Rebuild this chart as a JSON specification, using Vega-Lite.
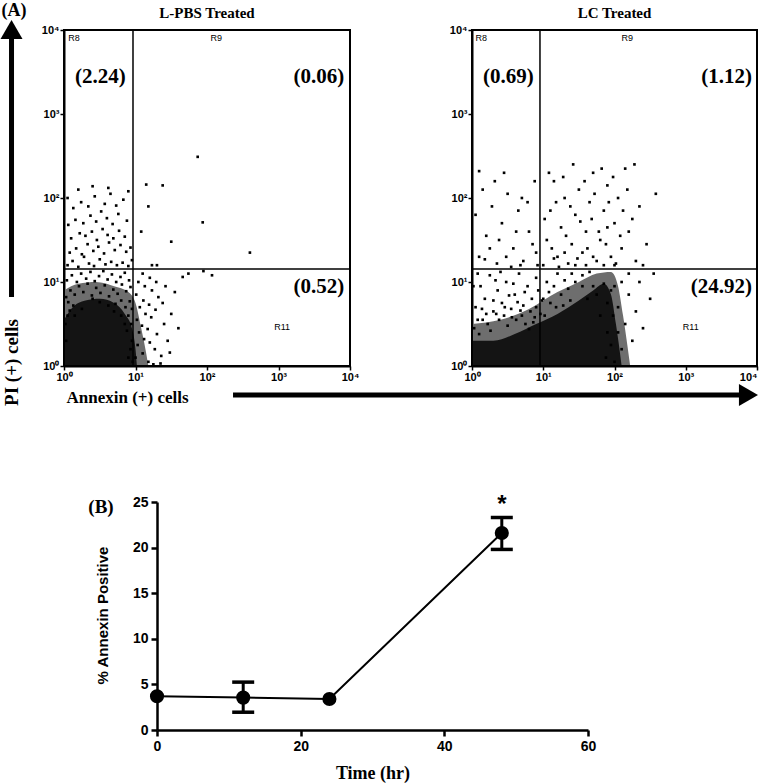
{
"$schema":"https://vega.github.io/schema/vega-lite/v6.json",
"width":761,"height":783,"autosize":"none","padding":0,"background":"white",
"config":{"view":{"stroke":null},"font":"Liberation Sans","axis":{"grid":false,"domainColor":"black","tickColor":"black","labelColor":"black","titleColor":"black","labelFlush":false,"labelOverlap":false}},
"datasets":{
"lpbs_contour":[{"level":"outer","ann":0,"pi":0.9},{"level":"outer","ann":0.2,"pi":0.98},{"level":"outer","ann":0.45,"pi":1.0},{"level":"outer","ann":0.7,"pi":0.95},{"level":"outer","ann":0.9,"pi":0.88},{"level":"outer","ann":1.0,"pi":0.75},{"level":"outer","ann":1.08,"pi":0.45},{"level":"outer","ann":1.15,"pi":0.15},{"level":"outer","ann":1.18,"pi":0},
{"level":"inner","ann":0,"pi":0.55},{"level":"inner","ann":0.1,"pi":0.68},{"level":"inner","ann":0.3,"pi":0.78},{"level":"inner","ann":0.5,"pi":0.8},{"level":"inner","ann":0.7,"pi":0.75},{"level":"inner","ann":0.85,"pi":0.62},{"level":"inner","ann":0.95,"pi":0.45},{"level":"inner","ann":1.0,"pi":0.2},{"level":"inner","ann":1.02,"pi":0}],
"lc_contour":[{"level":"outer","ann":0,"pi":0.5},{"level":"outer","ann":0.4,"pi":0.55},{"level":"outer","ann":0.8,"pi":0.68},{"level":"outer","ann":1.2,"pi":0.88},{"level":"outer","ann":1.5,"pi":1.0},{"level":"outer","ann":1.75,"pi":1.1},{"level":"outer","ann":1.95,"pi":1.12},{"level":"outer","ann":2.05,"pi":0.95},{"level":"outer","ann":2.12,"pi":0.6},{"level":"outer","ann":2.18,"pi":0.25},{"level":"outer","ann":2.22,"pi":0},
{"level":"inner","ann":0,"pi":0.3},{"level":"inner","ann":0.3,"pi":0.3},{"level":"inner","ann":0.6,"pi":0.38},{"level":"inner","ann":0.9,"pi":0.5},{"level":"inner","ann":1.2,"pi":0.62},{"level":"inner","ann":1.5,"pi":0.78},{"level":"inner","ann":1.7,"pi":0.9},{"level":"inner","ann":1.85,"pi":0.98},{"level":"inner","ann":1.95,"pi":0.85},{"level":"inner","ann":2.02,"pi":0.5},{"level":"inner","ann":2.07,"pi":0.2},{"level":"inner","ann":2.1,"pi":0}],
"lpbs_events":[{"ann":0.05,"pi":1.2},{"ann":0.12,"pi":1.25},{"ann":0.2,"pi":1.18},{"ann":0.28,"pi":1.3},{"ann":0.35,"pi":1.22},{"ann":0.42,"pi":1.19},{"ann":0.5,"pi":1.27},{"ann":0.58,"pi":1.21},{"ann":0.66,"pi":1.24},{"ann":0.74,"pi":1.2},{"ann":0.82,"pi":1.23},{"ann":0.9,"pi":1.19},{"ann":0.95,"pi":1.26},
{"ann":0.08,"pi":1.35},{"ann":0.17,"pi":1.4},{"ann":0.25,"pi":1.33},{"ann":0.33,"pi":1.45},{"ann":0.41,"pi":1.37},{"ann":0.48,"pi":1.42},{"ann":0.56,"pi":1.34},{"ann":0.63,"pi":1.47},{"ann":0.71,"pi":1.38},{"ann":0.79,"pi":1.44},{"ann":0.87,"pi":1.36},{"ann":0.93,"pi":1.41},
{"ann":0.1,"pi":1.52},{"ann":0.22,"pi":1.58},{"ann":0.3,"pi":1.55},{"ann":0.39,"pi":1.6},{"ann":0.46,"pi":1.5},{"ann":0.54,"pi":1.63},{"ann":0.61,"pi":1.56},{"ann":0.69,"pi":1.52},{"ann":0.77,"pi":1.61},{"ann":0.85,"pi":1.54},
{"ann":0.06,"pi":1.68},{"ann":0.16,"pi":1.74},{"ann":0.27,"pi":1.7},{"ann":0.37,"pi":1.79},{"ann":0.45,"pi":1.72},{"ann":0.52,"pi":1.84},{"ann":0.6,"pi":1.76},{"ann":0.68,"pi":1.69},{"ann":0.76,"pi":1.81},{"ann":0.88,"pi":1.73},
{"ann":0.13,"pi":1.88},{"ann":0.24,"pi":1.95},{"ann":0.34,"pi":1.9},{"ann":0.43,"pi":2.02},{"ann":0.57,"pi":1.93},{"ann":0.65,"pi":2.05},{"ann":0.73,"pi":1.91},{"ann":0.83,"pi":1.98},
{"ann":0.2,"pi":2.1},{"ann":0.4,"pi":2.14},{"ann":0.62,"pi":2.12},{"ann":0.9,"pi":2.08},{"ann":0.05,"pi":2.0},
{"ann":0.03,"pi":0.82},{"ann":0.09,"pi":0.9},{"ann":0.15,"pi":0.85},{"ann":0.21,"pi":0.95},{"ann":0.27,"pi":0.88},{"ann":0.33,"pi":0.98},{"ann":0.39,"pi":0.84},{"ann":0.45,"pi":0.93},{"ann":0.51,"pi":0.87},{"ann":0.57,"pi":0.96},{"ann":0.63,"pi":0.83},{"ann":0.69,"pi":0.91},{"ann":0.75,"pi":0.86},{"ann":0.81,"pi":0.97},{"ann":0.87,"pi":0.89},{"ann":0.93,"pi":0.94},
{"ann":0.04,"pi":1.02},{"ann":0.11,"pi":1.08},{"ann":0.18,"pi":1.0},{"ann":0.24,"pi":1.1},{"ann":0.31,"pi":1.04},{"ann":0.37,"pi":1.12},{"ann":0.43,"pi":1.01},{"ann":0.49,"pi":1.07},{"ann":0.55,"pi":1.13},{"ann":0.61,"pi":1.03},{"ann":0.67,"pi":1.09},{"ann":0.73,"pi":1.0},{"ann":0.79,"pi":1.06},{"ann":0.85,"pi":1.11},{"ann":0.91,"pi":1.02},
{"ann":0.06,"pi":0.76},{"ann":0.13,"pi":0.72},{"ann":0.72,"pi":0.74},{"ann":0.8,"pi":0.78},{"ann":0.86,"pi":0.7},{"ann":0.92,"pi":0.77},{"ann":0.08,"pi":0.66},{"ann":0.9,"pi":0.6},{"ann":0.95,"pi":0.68},{"ann":0.94,"pi":0.5},{"ann":0.88,"pi":0.42},
{"ann":0.02,"pi":0.5},{"ann":0.03,"pi":0.3},{"ann":0.05,"pi":0.6},{"ann":0.93,"pi":0.2},{"ann":0.95,"pi":0.3},{"ann":0.9,"pi":0.1},{"ann":0.96,"pi":0.05},{"ann":0.85,"pi":0.5},{"ann":0.8,"pi":0.6},{"ann":0.7,"pi":0.65},{"ann":0.25,"pi":0.68},{"ann":0.15,"pi":0.6},{"ann":0.62,"pi":0.72},{"ann":0.4,"pi":0.8},{"ann":0.5,"pi":0.76},
{"ann":1.0,"pi":0.1},{"ann":1.03,"pi":0.25},{"ann":1.05,"pi":0.4},{"ann":1.02,"pi":0.55},{"ann":1.06,"pi":0.7},{"ann":1.01,"pi":0.85},{"ann":1.04,"pi":1.0},
{"ann":1.1,"pi":0.15},{"ann":1.12,"pi":0.32},{"ann":1.09,"pi":0.48},{"ann":1.14,"pi":0.62},{"ann":1.11,"pi":0.78},{"ann":1.13,"pi":0.95},{"ann":1.1,"pi":1.1},
{"ann":1.18,"pi":0.05},{"ann":1.2,"pi":0.28},{"ann":1.17,"pi":0.44},{"ann":1.22,"pi":0.58},{"ann":1.19,"pi":0.73},{"ann":1.23,"pi":0.9},{"ann":1.2,"pi":1.05},
{"ann":1.27,"pi":0.2},{"ann":1.3,"pi":0.38},{"ann":1.28,"pi":0.67},{"ann":1.32,"pi":0.82},{"ann":1.29,"pi":1.0},
{"ann":1.36,"pi":0.12},{"ann":1.4,"pi":0.5},{"ann":1.38,"pi":0.75},{"ann":1.42,"pi":0.95},{"ann":1.45,"pi":0.3},{"ann":1.5,"pi":0.62},{"ann":1.55,"pi":0.88},{"ann":1.6,"pi":0.45},{"ann":1.66,"pi":1.06},{"ann":1.35,"pi":0.03},{"ann":1.25,"pi":0.02},{"ann":1.48,"pi":0.16},
{"ann":1.74,"pi":1.1},{"ann":1.95,"pi":1.13},{"ann":2.07,"pi":1.08},{"ann":2.6,"pi":1.35},{"ann":1.5,"pi":1.48},{"ann":1.23,"pi":1.2},{"ann":1.3,"pi":1.2},{"ann":1.38,"pi":2.15},{"ann":1.15,"pi":2.16},{"ann":1.87,"pi":2.49},{"ann":1.94,"pi":1.71},{"ann":1.18,"pi":1.9},{"ann":1.08,"pi":1.6}],
"lc_events":[{"ann":0.1,"pi":1.3},{"ann":0.2,"pi":1.55},{"ann":0.28,"pi":1.9},{"ann":0.35,"pi":1.22},{"ann":0.42,"pi":1.7},{"ann":0.5,"pi":2.05},{"ann":0.58,"pi":1.4},{"ann":0.65,"pi":1.85},{"ann":0.72,"pi":1.25},{"ann":0.8,"pi":1.6},{"ann":0.88,"pi":2.2},{"ann":0.15,"pi":2.1},{"ann":0.45,"pi":2.3},{"ann":0.7,"pi":2.0},{"ann":0.9,"pi":1.35},{"ann":0.55,"pi":1.18},{"ann":0.25,"pi":1.4},{"ann":0.78,"pi":1.95},{"ann":0.62,"pi":1.6},{"ann":0.38,"pi":1.5},{"ann":0.05,"pi":1.8},{"ann":0.85,"pi":1.45},{"ann":0.32,"pi":2.2},{"ann":0.48,"pi":1.3},{"ann":0.68,"pi":1.2},{"ann":0.92,"pi":1.2},{"ann":0.1,"pi":2.32},{"ann":0.18,"pi":1.27},
{"ann":1.0,"pi":1.2},{"ann":1.05,"pi":1.5},{"ann":1.1,"pi":1.85},{"ann":1.15,"pi":2.2},{"ann":1.2,"pi":1.3},{"ann":1.25,"pi":1.65},{"ann":1.3,"pi":2.0},{"ann":1.35,"pi":1.22},{"ann":1.4,"pi":1.45},{"ann":1.45,"pi":1.8},{"ann":1.5,"pi":2.1},{"ann":1.55,"pi":1.35},{"ann":1.6,"pi":1.6},{"ann":1.65,"pi":1.95},{"ann":1.7,"pi":2.3},{"ann":1.75,"pi":1.25},{"ann":1.8,"pi":1.5},{"ann":1.85,"pi":1.85},{"ann":1.9,"pi":2.15},{"ann":1.95,"pi":1.3},{"ann":2.0,"pi":1.7},{"ann":2.05,"pi":2.0},{"ann":2.1,"pi":1.4},{"ann":2.15,"pi":2.35},{"ann":2.2,"pi":1.6},{"ann":2.3,"pi":1.25},{"ann":2.35,"pi":1.9},{"ann":2.58,"pi":2.05},{"ann":2.45,"pi":1.45},
{"ann":1.02,"pi":1.75},{"ann":1.08,"pi":2.3},{"ann":1.12,"pi":1.4},{"ann":1.18,"pi":1.95},{"ann":1.22,"pi":1.18},{"ann":1.28,"pi":2.25},{"ann":1.32,"pi":1.55},{"ann":1.38,"pi":1.9},{"ann":1.42,"pi":2.4},{"ann":1.48,"pi":1.28},{"ann":1.52,"pi":1.72},{"ann":1.58,"pi":2.2},{"ann":1.62,"pi":1.4},{"ann":1.68,"pi":1.75},{"ann":1.72,"pi":2.05},{"ann":1.78,"pi":1.6},{"ann":1.82,"pi":2.35},{"ann":1.88,"pi":1.45},{"ann":1.92,"pi":1.95},{"ann":1.98,"pi":2.25},{"ann":2.02,"pi":1.22},{"ann":2.08,"pi":1.55},{"ann":2.12,"pi":1.85},{"ann":2.18,"pi":2.1},{"ann":2.25,"pi":1.75},{"ann":2.28,"pi":2.4},{"ann":1.3,"pi":1.35},{"ann":1.6,"pi":1.2},{"ann":1.85,"pi":1.2},{"ann":2.0,"pi":1.2},{"ann":1.45,"pi":1.2},{"ann":1.15,"pi":1.28},{"ann":1.7,"pi":1.3},{"ann":1.9,"pi":1.65},{"ann":2.4,"pi":1.2},
{"ann":0.05,"pi":0.7},{"ann":0.12,"pi":0.95},{"ann":0.18,"pi":0.8},{"ann":0.25,"pi":1.08},{"ann":0.3,"pi":0.65},{"ann":0.36,"pi":0.9},{"ann":0.42,"pi":0.75},{"ann":0.48,"pi":1.0},{"ann":0.55,"pi":0.68},{"ann":0.6,"pi":0.85},{"ann":0.66,"pi":1.1},{"ann":0.72,"pi":0.72},{"ann":0.78,"pi":0.95},{"ann":0.84,"pi":0.8},{"ann":0.9,"pi":1.05},{"ann":0.08,"pi":1.1},{"ann":0.2,"pi":0.62},{"ann":0.33,"pi":1.02},{"ann":0.45,"pi":0.6},{"ann":0.58,"pi":0.98},{"ann":0.7,"pi":0.6},{"ann":0.82,"pi":0.65},{"ann":0.15,"pi":0.55},{"ann":0.38,"pi":0.55},{"ann":0.62,"pi":0.55},{"ann":0.88,"pi":0.58},{"ann":0.03,"pi":0.45},{"ann":0.1,"pi":0.38},{"ann":0.26,"pi":0.42},{"ann":0.5,"pi":0.48},{"ann":0.75,"pi":0.5},{"ann":0.93,"pi":0.9},{"ann":0.4,"pi":1.12},{"ann":0.02,"pi":0.95},
{"ann":0.08,"pi":0.55},{"ann":0.22,"pi":0.5},{"ann":0.34,"pi":0.62},{"ann":0.46,"pi":0.7},{"ann":0.56,"pi":0.58},{"ann":0.68,"pi":0.66},{"ann":0.8,"pi":0.44},{"ann":0.9,"pi":0.7},{"ann":0.3,"pi":0.78},{"ann":0.52,"pi":0.84},{"ann":0.64,"pi":0.76},{"ann":0.14,"pi":0.68},{"ann":0.74,"pi":0.88},{"ann":0.86,"pi":0.52},{"ann":0.96,"pi":0.62},{"ann":0.98,"pi":0.78},
{"ann":1.0,"pi":0.8},{"ann":1.05,"pi":1.0},{"ann":1.1,"pi":0.75},{"ann":1.15,"pi":0.95},{"ann":1.2,"pi":1.1},{"ann":1.25,"pi":0.85},{"ann":1.3,"pi":1.02},{"ann":1.35,"pi":0.92},{"ann":1.4,"pi":1.1},{"ann":1.45,"pi":1.0},{"ann":1.55,"pi":1.08},{"ann":1.65,"pi":1.12},{"ann":1.02,"pi":0.6},{"ann":1.08,"pi":0.88},{"ann":1.18,"pi":0.7},{"ann":1.28,"pi":0.72},{"ann":1.38,"pi":0.78},
{"ann":2.0,"pi":0.95},{"ann":2.05,"pi":0.7},{"ann":2.1,"pi":1.0},{"ann":2.15,"pi":0.5},{"ann":2.2,"pi":0.85},{"ann":2.25,"pi":0.3},{"ann":2.3,"pi":0.65},{"ann":2.35,"pi":1.0},{"ann":2.1,"pi":0.2},{"ann":2.0,"pi":0.05},{"ann":2.4,"pi":0.45},{"ann":2.5,"pi":0.8},{"ann":2.55,"pi":1.1},{"ann":2.2,"pi":1.1},{"ann":2.05,"pi":0.4},
{"ann":1.95,"pi":0.9},{"ann":1.9,"pi":0.75},{"ann":1.98,"pi":0.6},{"ann":1.85,"pi":0.98},{"ann":1.8,"pi":0.6},{"ann":1.9,"pi":0.4},{"ann":1.95,"pi":0.25},{"ann":1.88,"pi":0.1},{"ann":1.75,"pi":0.85},{"ann":1.7,"pi":0.95},{"ann":1.62,"pi":0.8},{"ann":1.55,"pi":0.95}],
"panels":[{"panel":"L-PBS","title":"L-PBS Treated","lo":0,"hi":4,"gateAnn":0.965,"gatePI":1.155,"titleAnn":2,"titlePI":4.2},{"panel":"LC","title":"LC Treated","lo":0,"hi":4,"gateAnn":0.954,"gatePI":1.155,"titleAnn":2,"titlePI":4.2}],
"notes":[
{"panel":"L-PBS","kind":"pct","text":"(2.24)","ann":0.51,"pi":3.44,"align":"center"},
{"panel":"L-PBS","kind":"pct","text":"(0.06)","ann":3.92,"pi":3.44,"align":"right"},
{"panel":"L-PBS","kind":"pct","text":"(0.52)","ann":3.92,"pi":0.94,"align":"right"},
{"panel":"L-PBS","kind":"gate","text":"R8","ann":0.06,"pi":3.9,"align":"left"},
{"panel":"L-PBS","kind":"gate","text":"R9","ann":2.13,"pi":3.9,"align":"center"},
{"panel":"L-PBS","kind":"gate","text":"R11","ann":3.05,"pi":0.47,"align":"center"},
{"panel":"LC","kind":"pct","text":"(0.69)","ann":0.51,"pi":3.44,"align":"center"},
{"panel":"LC","kind":"pct","text":"(1.12)","ann":3.93,"pi":3.44,"align":"right"},
{"panel":"LC","kind":"pct","text":"(24.92)","ann":3.93,"pi":0.94,"align":"right"},
{"panel":"LC","kind":"gate","text":"R8","ann":0.05,"pi":3.9,"align":"left"},
{"panel":"LC","kind":"gate","text":"R9","ann":2.18,"pi":3.9,"align":"center"},
{"panel":"LC","kind":"gate","text":"R11","ann":3.07,"pi":0.47,"align":"center"},
{"panel":"figure","kind":"panel","text":"(A)","ann":-0.70,"pi":4.23,"align":"center"}],
"arrows":[{"dir":"PI","ann":-0.734,"ann2":-0.734,"pi":0.82,"pi2":3.93,"headAnn":-0.734,"headPI":4.006},{"dir":"Annexin","ann":2.364,"ann2":9.455,"pi":-0.345,"pi2":-0.345,"headAnn":9.573,"headPI":-0.345}],
"timecourse":[{"time":0,"mean":3.7},{"time":12,"mean":3.55,"lo":1.95,"hi":5.25},{"time":24,"mean":3.4},{"time":48,"mean":21.6,"lo":19.8,"hi":23.3}],
"timenotes":[{"text":"*","time":48,"pct":23.9,"kind":"star"},{"text":"(B)","time":-7.8,"pct":24.4,"kind":"panel"}]
},
"layer":[
 {"data":{"name":"lpbs_contour"},"transform":[{"filter":"datum.level === 'outer'"}],"mark":{"type":"area","color":"#6e6e6e","opacity":1,"interpolate":"monotone"},
  "encoding":{
   "x":{"field":"ann","type":"quantitative","scale":{"domain":[0,4],"range":[64,350],"nice":false,"zero":false},
     "axis":{"orient":"bottom","offset":-417,"values":[0,1,2,3,4],"labelExpr":"'10' + ['⁰','¹','²','³','⁴'][datum.value]","tickSize":4,"tickWidth":1.5,"domainWidth":2,"labelFont":"Liberation Sans","labelFontWeight":"bold","labelFontSize":11,"labelPadding":1,
       "title":"Annexin (+) cells","titleFont":"Liberation Serif","titleFontSize":17,"titleFontWeight":"bold","titleX":127,"titleY":31,"titleAlign":"center","titleBaseline":"middle","titleAngle":0}},
   "y":{"field":"pi","type":"quantitative","scale":{"domain":[0,4],"range":[366,30],"nice":false,"zero":false},
     "axis":{"orient":"left","offset":-64,"values":[0,1,2,3,4],"labelExpr":"'10' + ['⁰','¹','²','³','⁴'][datum.value]","tickSize":4,"tickWidth":1.5,"domainWidth":2,"labelFont":"Liberation Sans","labelFontWeight":"bold","labelFontSize":11,"labelPadding":1,
       "title":"PI (+) cells","titleFont":"Liberation Serif","titleFontSize":19,"titleFontWeight":"bold","titleX":-52.5,"titleY":362,"titleAlign":"center","titleBaseline":"middle","titleAngle":-90}},
   "y2":{"datum":0}}},
 {"data":{"name":"lpbs_contour"},"transform":[{"filter":"datum.level === 'inner'"}],"mark":{"type":"area","color":"#141414","opacity":1,"interpolate":"monotone"},
  "encoding":{"x":{"field":"ann","type":"quantitative","scale":{"domain":[0,4],"range":[64,350],"nice":false,"zero":false},"axis":null},"y":{"field":"pi","type":"quantitative","scale":{"domain":[0,4],"range":[366,30],"nice":false,"zero":false},"axis":null},"y2":{"datum":0}}},
 {"data":{"name":"lpbs_events"},"mark":{"type":"point","shape":"square","filled":true,"size":7,"color":"black","opacity":1,"strokeWidth":0},
  "encoding":{"x":{"field":"ann","type":"quantitative","scale":{"domain":[0,4],"range":[64,350],"nice":false,"zero":false},"axis":null},"y":{"field":"pi","type":"quantitative","scale":{"domain":[0,4],"range":[366,30],"nice":false,"zero":false},"axis":null}}},
 {"data":{"name":"panels"},"transform":[{"filter":"datum.panel === 'L-PBS'"}],"mark":{"type":"rect","fill":"transparent","stroke":"black","strokeWidth":2},
  "encoding":{"x":{"field":"lo","type":"quantitative","scale":{"domain":[0,4],"range":[64,350],"nice":false,"zero":false},"axis":null},"x2":{"field":"hi"},"y":{"field":"lo","type":"quantitative","scale":{"domain":[0,4],"range":[366,30],"nice":false,"zero":false},"axis":null},"y2":{"field":"hi"}}},
 {"data":{"name":"panels"},"transform":[{"filter":"datum.panel === 'L-PBS'"}],"mark":{"type":"rule","color":"black","strokeWidth":1.5},
  "encoding":{"x":{"field":"gateAnn","type":"quantitative","scale":{"domain":[0,4],"range":[64,350],"nice":false,"zero":false},"axis":null},"y":{"field":"lo","type":"quantitative","scale":{"domain":[0,4],"range":[366,30],"nice":false,"zero":false},"axis":null},"y2":{"field":"hi"}}},
 {"data":{"name":"panels"},"transform":[{"filter":"datum.panel === 'L-PBS'"}],"mark":{"type":"rule","color":"black","strokeWidth":1.5},
  "encoding":{"y":{"field":"gatePI","type":"quantitative","scale":{"domain":[0,4],"range":[366,30],"nice":false,"zero":false},"axis":null},"x":{"field":"lo","type":"quantitative","scale":{"domain":[0,4],"range":[64,350],"nice":false,"zero":false},"axis":null},"x2":{"field":"hi"}}},
 {"data":{"name":"panels"},"transform":[{"filter":"datum.panel === 'L-PBS'"}],"mark":{"type":"text","font":"Liberation Serif","fontWeight":"bold","fontSize":15,"color":"black","baseline":"middle"},
  "encoding":{"x":{"field":"titleAnn","type":"quantitative","scale":{"domain":[0,4],"range":[64,350],"nice":false,"zero":false},"axis":null},"y":{"field":"titlePI","type":"quantitative","scale":{"domain":[0,4],"range":[366,30],"nice":false,"zero":false},"axis":null},"text":{"field":"title"}}},
 {"data":{"name":"notes"},"transform":[{"filter":"(datum.panel === 'L-PBS' && datum.kind === 'pct') || datum.kind === 'panel'"}],"mark":{"type":"text","font":"Liberation Serif","fontWeight":"bold","fontSize":{"expr":"datum.kind === 'panel' ? 18 : 21"},"color":"black","baseline":"middle","align":{"expr":"datum.align"}},
  "encoding":{"x":{"field":"ann","type":"quantitative","scale":{"domain":[0,4],"range":[64,350],"nice":false,"zero":false},"axis":null},"y":{"field":"pi","type":"quantitative","scale":{"domain":[0,4],"range":[366,30],"nice":false,"zero":false},"axis":null},"text":{"field":"text"}}},
 {"data":{"name":"notes"},"transform":[{"filter":"datum.panel === 'L-PBS' && datum.kind === 'gate'"}],"mark":{"type":"text","font":"Liberation Sans","fontSize":9,"color":"black","baseline":"middle","align":{"expr":"datum.align"}},
  "encoding":{"x":{"field":"ann","type":"quantitative","scale":{"domain":[0,4],"range":[64,350],"nice":false,"zero":false},"axis":null},"y":{"field":"pi","type":"quantitative","scale":{"domain":[0,4],"range":[366,30],"nice":false,"zero":false},"axis":null},"text":{"field":"text"}}},
 {"data":{"name":"arrows"},"mark":{"type":"rule","color":"black","strokeWidth":5},
  "encoding":{"x":{"field":"ann","type":"quantitative","scale":{"domain":[0,4],"range":[64,350],"nice":false,"zero":false},"axis":null},"x2":{"field":"ann2"},"y":{"field":"pi","type":"quantitative","scale":{"domain":[0,4],"range":[366,30],"nice":false,"zero":false},"axis":null},"y2":{"field":"pi2"}}},
 {"data":{"name":"arrows"},"mark":{"type":"point","filled":true,"size":484,"color":"black","opacity":1,"strokeWidth":0},
  "encoding":{"x":{"field":"headAnn","type":"quantitative","scale":{"domain":[0,4],"range":[64,350],"nice":false,"zero":false},"axis":null},"y":{"field":"headPI","type":"quantitative","scale":{"domain":[0,4],"range":[366,30],"nice":false,"zero":false},"axis":null},
   "shape":{"field":"dir","type":"nominal","scale":{"domain":["PI","Annexin"],"range":["triangle-up","triangle-right"]},"legend":null}}},

 {"data":{"name":"lc_contour"},"transform":[{"filter":"datum.level === 'outer'"}],"mark":{"type":"area","color":"#6e6e6e","opacity":1,"interpolate":"monotone"},
  "encoding":{
   "x":{"field":"ann","type":"quantitative","scale":{"domain":[0,4],"range":[472,757],"nice":false,"zero":false},
     "axis":{"orient":"bottom","offset":-417,"values":[0,1,2,3,4],"labelExpr":"'10' + ['⁰','¹','²','³','⁴'][datum.value]","labelAlign":{"condition":{"test":"datum.value === 4","value":"right"},"value":"center"},"tickSize":4,"tickWidth":1.5,"domainWidth":2,"labelFont":"Liberation Sans","labelFontWeight":"bold","labelFontSize":11,"labelPadding":1,"title":null}},
   "y":{"field":"pi","type":"quantitative","scale":{"domain":[0,4],"range":[366,30],"nice":false,"zero":false},
     "axis":{"orient":"left","offset":-472,"values":[0,1,2,3,4],"labelExpr":"'10' + ['⁰','¹','²','³','⁴'][datum.value]","tickSize":4,"tickWidth":1.5,"domainWidth":2,"labelFont":"Liberation Sans","labelFontWeight":"bold","labelFontSize":11,"labelPadding":1,"title":null}},
   "y2":{"datum":0}}},
 {"data":{"name":"lc_contour"},"transform":[{"filter":"datum.level === 'inner'"}],"mark":{"type":"area","color":"#141414","opacity":1,"interpolate":"monotone"},
  "encoding":{"x":{"field":"ann","type":"quantitative","scale":{"domain":[0,4],"range":[472,757],"nice":false,"zero":false},"axis":null},"y":{"field":"pi","type":"quantitative","scale":{"domain":[0,4],"range":[366,30],"nice":false,"zero":false},"axis":null},"y2":{"datum":0}}},
 {"data":{"name":"lc_events"},"mark":{"type":"point","shape":"square","filled":true,"size":7,"color":"black","opacity":1,"strokeWidth":0},
  "encoding":{"x":{"field":"ann","type":"quantitative","scale":{"domain":[0,4],"range":[472,757],"nice":false,"zero":false},"axis":null},"y":{"field":"pi","type":"quantitative","scale":{"domain":[0,4],"range":[366,30],"nice":false,"zero":false},"axis":null}}},
 {"data":{"name":"panels"},"transform":[{"filter":"datum.panel === 'LC'"}],"mark":{"type":"rect","fill":"transparent","stroke":"black","strokeWidth":2},
  "encoding":{"x":{"field":"lo","type":"quantitative","scale":{"domain":[0,4],"range":[472,757],"nice":false,"zero":false},"axis":null},"x2":{"field":"hi"},"y":{"field":"lo","type":"quantitative","scale":{"domain":[0,4],"range":[366,30],"nice":false,"zero":false},"axis":null},"y2":{"field":"hi"}}},
 {"data":{"name":"panels"},"transform":[{"filter":"datum.panel === 'LC'"}],"mark":{"type":"rule","color":"black","strokeWidth":1.5},
  "encoding":{"x":{"field":"gateAnn","type":"quantitative","scale":{"domain":[0,4],"range":[472,757],"nice":false,"zero":false},"axis":null},"y":{"field":"lo","type":"quantitative","scale":{"domain":[0,4],"range":[366,30],"nice":false,"zero":false},"axis":null},"y2":{"field":"hi"}}},
 {"data":{"name":"panels"},"transform":[{"filter":"datum.panel === 'LC'"}],"mark":{"type":"rule","color":"black","strokeWidth":1.5},
  "encoding":{"y":{"field":"gatePI","type":"quantitative","scale":{"domain":[0,4],"range":[366,30],"nice":false,"zero":false},"axis":null},"x":{"field":"lo","type":"quantitative","scale":{"domain":[0,4],"range":[472,757],"nice":false,"zero":false},"axis":null},"x2":{"field":"hi"}}},
 {"data":{"name":"panels"},"transform":[{"filter":"datum.panel === 'LC'"}],"mark":{"type":"text","font":"Liberation Serif","fontWeight":"bold","fontSize":15,"color":"black","baseline":"middle"},
  "encoding":{"x":{"field":"titleAnn","type":"quantitative","scale":{"domain":[0,4],"range":[472,757],"nice":false,"zero":false},"axis":null},"y":{"field":"titlePI","type":"quantitative","scale":{"domain":[0,4],"range":[366,30],"nice":false,"zero":false},"axis":null},"text":{"field":"title"}}},
 {"data":{"name":"notes"},"transform":[{"filter":"datum.panel === 'LC' && datum.kind === 'pct'"}],"mark":{"type":"text","font":"Liberation Serif","fontWeight":"bold","fontSize":21,"color":"black","baseline":"middle","align":{"expr":"datum.align"}},
  "encoding":{"x":{"field":"ann","type":"quantitative","scale":{"domain":[0,4],"range":[472,757],"nice":false,"zero":false},"axis":null},"y":{"field":"pi","type":"quantitative","scale":{"domain":[0,4],"range":[366,30],"nice":false,"zero":false},"axis":null},"text":{"field":"text"}}},
 {"data":{"name":"notes"},"transform":[{"filter":"datum.panel === 'LC' && datum.kind === 'gate'"}],"mark":{"type":"text","font":"Liberation Sans","fontSize":9,"color":"black","baseline":"middle","align":{"expr":"datum.align"}},
  "encoding":{"x":{"field":"ann","type":"quantitative","scale":{"domain":[0,4],"range":[472,757],"nice":false,"zero":false},"axis":null},"y":{"field":"pi","type":"quantitative","scale":{"domain":[0,4],"range":[366,30],"nice":false,"zero":false},"axis":null},"text":{"field":"text"}}},

 {"data":{"name":"timecourse"},"mark":{"type":"line","color":"black","strokeWidth":2},
  "encoding":{
   "x":{"field":"time","type":"quantitative","scale":{"domain":[0,60],"range":[157,588],"nice":false,"zero":false},
     "axis":{"orient":"bottom","offset":-53,"values":[0,20,40,60],"tickSize":6,"tickWidth":2.5,"domainWidth":2.5,"labelFont":"Liberation Sans","labelFontWeight":"bold","labelFontSize":14,"labelPadding":3,
       "title":"Time (hr)","titleFont":"Liberation Serif","titleFontSize":18,"titleFontWeight":"bold","titleX":372.5,"titleY":43,"titleAlign":"center","titleBaseline":"middle","titleAngle":0}},
   "y":{"field":"mean","type":"quantitative","scale":{"domain":[0,25],"range":[730,502],"nice":false,"zero":false},
     "axis":{"orient":"left","offset":-157,"values":[0,5,10,15,20,25],"tickSize":6,"tickWidth":2.5,"domainWidth":2.5,"labelFont":"Liberation Sans","labelFontWeight":"bold","labelFontSize":14,"labelPadding":3,
       "title":"% Annexin Positive","titleFont":"Liberation Sans","titleFontSize":15,"titleFontWeight":"bold","titleX":-55,"titleY":615,"titleAlign":"center","titleBaseline":"middle","titleAngle":-90}}}},
 {"data":{"name":"timecourse"},"mark":{"type":"rule","color":"black","strokeWidth":3},
  "encoding":{"x":{"field":"time","type":"quantitative","scale":{"domain":[0,60],"range":[157,588],"nice":false,"zero":false},"axis":null},"y":{"field":"lo","type":"quantitative","scale":{"domain":[0,25],"range":[730,502],"nice":false,"zero":false},"axis":null},"y2":{"field":"hi"}}},
 {"data":{"name":"timecourse"},"mark":{"type":"tick","orient":"horizontal","size":22,"thickness":3.5,"color":"black","opacity":1},
  "encoding":{"x":{"field":"time","type":"quantitative","scale":{"domain":[0,60],"range":[157,588],"nice":false,"zero":false},"axis":null},"y":{"field":"lo","type":"quantitative","scale":{"domain":[0,25],"range":[730,502],"nice":false,"zero":false},"axis":null}}},
 {"data":{"name":"timecourse"},"mark":{"type":"tick","orient":"horizontal","size":22,"thickness":3.5,"color":"black","opacity":1},
  "encoding":{"x":{"field":"time","type":"quantitative","scale":{"domain":[0,60],"range":[157,588],"nice":false,"zero":false},"axis":null},"y":{"field":"hi","type":"quantitative","scale":{"domain":[0,25],"range":[730,502],"nice":false,"zero":false},"axis":null}}},
 {"data":{"name":"timecourse"},"mark":{"type":"point","shape":"circle","filled":true,"size":200,"color":"black","opacity":1,"strokeWidth":0},
  "encoding":{"x":{"field":"time","type":"quantitative","scale":{"domain":[0,60],"range":[157,588],"nice":false,"zero":false},"axis":null},"y":{"field":"mean","type":"quantitative","scale":{"domain":[0,25],"range":[730,502],"nice":false,"zero":false},"axis":null}}},
 {"data":{"name":"timenotes"},"mark":{"type":"text","font":{"expr":"datum.kind === 'star' ? 'Liberation Sans' : 'Liberation Serif'"},"fontWeight":"bold","fontSize":{"expr":"datum.kind === 'star' ? 24 : 19"},"color":"black","baseline":{"expr":"datum.kind === 'star' ? 'alphabetic' : 'middle'"}},
  "encoding":{"x":{"field":"time","type":"quantitative","scale":{"domain":[0,60],"range":[157,588],"nice":false,"zero":false},"axis":null},"y":{"field":"pct","type":"quantitative","scale":{"domain":[0,25],"range":[730,502],"nice":false,"zero":false},"axis":null},"text":{"field":"text"}}}
],
"resolve":{"scale":{"x":"independent","y":"independent"},"axis":{"x":"independent","y":"independent"}}
}
